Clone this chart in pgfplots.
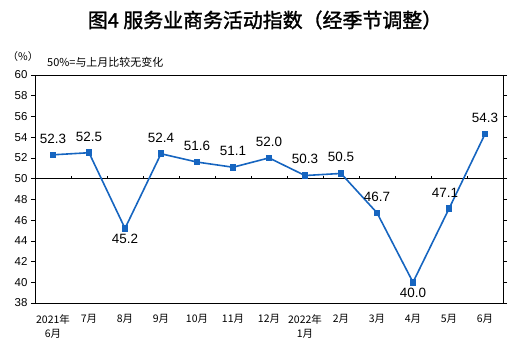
\documentclass[border=0pt]{standalone}
\usepackage{pgfplots}
\pgfplotsset{compat=1.18}
\usepackage{fontspec}
\setmainfont{Liberation Sans}
\newfontfamily\cjk{Noto Sans CJK SC}
\newfontfamily\cjkt{Noto Sans CJK SC}[FakeBold=1.5]
\definecolor{lineblue}{RGB}{22,101,192}
\begin{document}
\begin{tikzpicture}
\useasboundingbox (-35bp,-59bp) rectangle (491bp,303bp);
\begin{axis}[
  at={(0,0)}, anchor=south west,
  scale only axis, width=468bp, height=228bp,
  xmin=-0.5, xmax=12.5, ymin=38, ymax=60,
  ytick={38,40,...,60},
  xtick={0,...,12},
  xticklabels={{2021年\\6月},7月,8月,9月,10月,11月,12月,{2022年\\1月},2月,3月,4月,5月,6月},
  xtick style={draw=none},
  ytick style={black, line width=0.6bp},
  tick align=outside, major tick length=4bp,
  axis line style={black, line width=0.7bp},
  xticklabel style={font=\cjk\fontsize{10.5}{14}\selectfont, align=center, yshift=-4bp},
  yticklabel style={font=\fontsize{11.5}{13}\selectfont},
  /pgf/number format/assume math mode=true,
  clip=false,
]
\draw[black, line width=0.8bp] (axis cs:-0.5,50) -- (axis cs:12.5,50);
\pgfplotsinvokeforeach{0.5,1.5,...,11.5}{\draw[black, line width=0.6bp] (axis cs:#1,50) -- (axis cs:#1,50.3);}
\addplot[lineblue, line width=1.6bp, mark=square*, mark size=2.5bp, mark options={solid}]
  coordinates {(0,52.3) (1,52.5) (2,45.2) (3,52.4) (4,51.6) (5,51.1) (6,52.0) (7,50.3) (8,50.5) (9,46.7) (10,40.0) (11,47.1) (12,54.3)};
\addplot[draw=none, mark=none, nodes near coords,
  nodes near coords style={font=\fontsize{13.5}{15}\selectfont, black, anchor=south, yshift=8bp,
    /pgf/number format/.cd, fixed, fixed zerofill, precision=1}]
  coordinates {(0,52.3) (1,52.5) (3,52.4) (4,51.6) (5,51.1) (6,52.0) (7,50.3) (8,50.5) (9,46.7) (12,54.3)};
\addplot[draw=none, mark=none, nodes near coords,
  nodes near coords style={font=\fontsize{13.5}{15}\selectfont, black, anchor=south, yshift=8bp, xshift=-4bp,
    /pgf/number format/.cd, fixed, fixed zerofill, precision=1}]
  coordinates {(11,47.1)};
\addplot[draw=none, mark=none, nodes near coords,
  nodes near coords style={font=\fontsize{13.5}{15}\selectfont, black, anchor=north, yshift=-2bp,
    /pgf/number format/.cd, fixed, fixed zerofill, precision=1}]
  coordinates {(2,45.2) (10,40.0)};
\end{axis}
\node[font=\cjkt\fontsize{20}{22}\selectfont] at (230bp,283bp) {图4\ 服务业商务活动指数（经季节调整）};
\node[font=\cjk\fontsize{10.5}{12}\selectfont] at (-12bp,246bp) {（\%）};
\node[font=\cjk\fontsize{11}{12}\selectfont, anchor=west, inner sep=0pt] at (12bp,241bp) {50\%=与上月比较无变化};
\end{tikzpicture}
\end{document}
